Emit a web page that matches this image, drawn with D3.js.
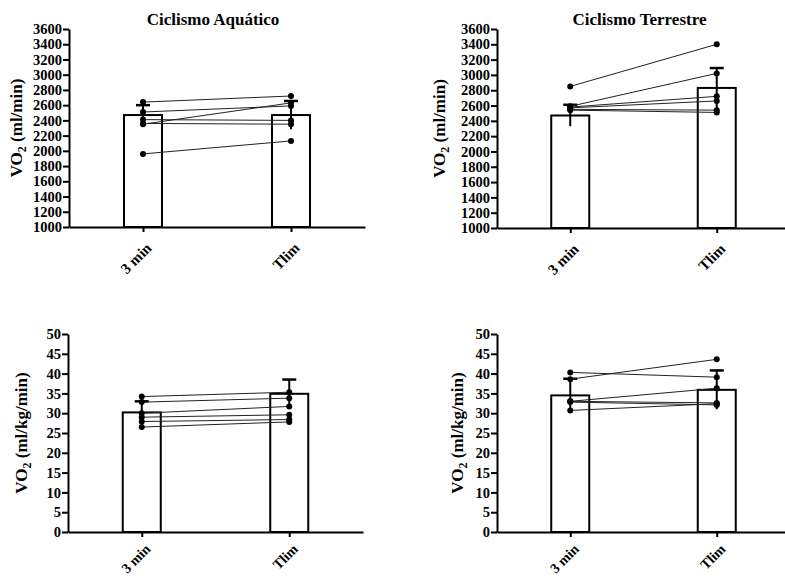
<!DOCTYPE html>
<html>
<head>
<meta charset="utf-8">
<script src="https://cdn.jsdelivr.net/npm/d3@7"></script>
<style>
  body { margin: 0; background: #fff; }
  svg { display: block; }
  text { font-family: "Times New Roman", "Liberation Serif", "DejaVu Serif", serif; font-weight: bold; fill: #000; }
</style>
</head>
<body>
<svg id="chart-svg" width="785" height="579"></svg>
<script>
// categories on every x axis
const categories = ["3 min", "Tlim"];

// tick labels
const ticksMl = [1000, 1200, 1400, 1600, 1800, 2000, 2200, 2400, 2600, 2800, 3000, 3200, 3400, 3600];
const ticksMlKg = [0, 5, 10, 15, 20, 25, 30, 35, 40, 45, 50];

// Ciclismo Aquático, ml/min
const aquaMlMean = [2470, 2470];
const aquaMlSd = [130, 185];
const aquaMlPre = [2640, 2510, 2350, 2410, 2360, 1960];
const aquaMlPost = [2720, 2590, 2630, 2400, 2350, 2130];

// Ciclismo Terrestre, ml/min
const terrMlMean = [2470, 2830];
const terrMlSd = [140, 260];
const terrMlPre = [2850, 2590, 2580, 2570, 2550, 2540];
const terrMlPost = [3400, 3020, 2720, 2660, 2540, 2510];

// Ciclismo Aquático, ml/kg/min
const aquaKgMean = [30.2, 34.9];
const aquaKgSd = [2.8, 3.6];
const aquaKgPre = [34.2, 32.8, 30.0, 29.0, 27.9, 26.5];
const aquaKgPost = [35.3, 33.8, 31.7, 29.6, 28.4, 27.8];

// Ciclismo Terrestre, ml/kg/min
const terrKgMean = [34.5, 35.9];
const terrKgSd = [4.2, 4.9];
const terrKgPre = [40.3, 38.6, 33.0, 33.0, 32.8, 30.7];
const terrKgPost = [39.1, 43.6, 36.3, 32.6, 32.1, 32.4];

const svg = d3.select("#chart-svg");
const serif = '"Times New Roman", "Liberation Serif", "DejaVu Serif", serif';

function drawPanel(p) {
    const g = svg.append("g");

    const x = d3.scalePoint()
        .domain(categories)
        .range([p.left, p.right])
        .padding(0.5);

    const y = d3.scaleLinear()
        .domain([p.ticks[0], p.ticks[p.ticks.length - 1]])
        .range([p.bottom, p.top]);

    const barW = 38;

    // bars
    g.selectAll(".bar")
        .data(categories)
        .enter()
        .append("rect")
        .attr("x", d => x(d) - barW / 2)
        .attr("y", (d, i) => y(p.mean[i]))
        .attr("width", barW)
        .attr("height", (d, i) => p.bottom - y(p.mean[i]))
        .attr("fill", "#fff")
        .attr("stroke", "#000")
        .attr("stroke-width", 2);

    // error bars (mean +/- SD)
    categories.forEach((c, i) => {
        g.append("line")
            .attr("x1", x(c)).attr("x2", x(c))
            .attr("y1", y(p.mean[i] - p.sd[i]))
            .attr("y2", y(p.mean[i] + p.sd[i]))
            .attr("stroke", "#000").attr("stroke-width", 2);
        g.append("line")
            .attr("x1", x(c) - 7).attr("x2", x(c) + 7)
            .attr("y1", y(p.mean[i] + p.sd[i]))
            .attr("y2", y(p.mean[i] + p.sd[i]))
            .attr("stroke", "#000").attr("stroke-width", 2.5);
    });

    // individual subjects: pre -> post
    p.pre.forEach((v, i) => {
        g.append("line")
            .attr("x1", x(categories[0])).attr("y1", y(v))
            .attr("x2", x(categories[1])).attr("y2", y(p.post[i]))
            .attr("stroke", "#222").attr("stroke-width", 1);
    });
    g.selectAll(".pre")
        .data(p.pre)
        .enter()
        .append("circle")
        .attr("cx", x(categories[0]))
        .attr("cy", d => y(d))
        .attr("r", 3)
        .attr("fill", "#000");
    g.selectAll(".post")
        .data(p.post)
        .enter()
        .append("circle")
        .attr("cx", x(categories[1]))
        .attr("cy", d => y(d))
        .attr("r", 3)
        .attr("fill", "#000");

    // Y axis
    const yAxis = g.append("g")
        .attr("transform", `translate(${p.left}, 0)`)
        .call(d3.axisLeft(y).tickValues(p.ticks).tickFormat(d3.format("d"))
            .tickSize(6).tickSizeOuter(0).tickPadding(1));
    yAxis.attr("font-family", serif);
    yAxis.select(".domain").attr("stroke-width", 2);
    yAxis.selectAll(".tick line").attr("stroke-width", 2);
    yAxis.selectAll("text")
        .attr("font-size", 14.5)
        .attr("font-weight", "bold");

    // X axis
    const xAxis = g.append("g")
        .attr("transform", `translate(0, ${p.bottom})`)
        .call(d3.axisBottom(x).tickSize(5).tickSizeOuter(0));
    xAxis.attr("font-family", serif);
    xAxis.select(".domain").attr("stroke-width", 2);
    xAxis.selectAll(".tick line").attr("stroke-width", 2);
    xAxis.selectAll("text")
        .attr("font-size", p.xFont)
        .attr("font-weight", "bold")
        .attr("y", 0)
        .attr("dy", 0)
        .attr("text-anchor", "end")
        .attr("transform", `translate(9, ${p.xDrop}) rotate(-45)`);

    // title
    if (p.title) {
        g.append("text")
            .attr("x", (p.left + p.right) / 2 - 4)
            .attr("y", 25)
            .attr("text-anchor", "middle")
            .attr("font-size", 17)
            .text(p.title);
    }

    // Y label with subscript
    const lab = g.append("text")
        .attr("transform", `translate(${p.labelX}, ${(p.top + p.bottom) / 2}) rotate(-90)`)
        .attr("text-anchor", "middle")
        .attr("font-size", 17);
    lab.append("tspan").text("VO");
    lab.append("tspan").attr("dy", 4).attr("font-size", 12).text("2");
    lab.append("tspan").attr("dy", -4).text(" " + p.unit);
}

drawPanel({ title: "Ciclismo Aquático", unit: "(ml/min)", ticks: ticksMl,
    left: 69, right: 365, top: 29, bottom: 227, labelX: 22, xFont: 15, xDrop: 22,
    mean: aquaMlMean, sd: aquaMlSd, pre: aquaMlPre, post: aquaMlPost });

drawPanel({ title: "Ciclismo Terrestre", unit: "(ml/min)", ticks: ticksMl,
    left: 497, right: 790, top: 29, bottom: 228, labelX: 445, xFont: 15, xDrop: 22,
    mean: terrMlMean, sd: terrMlSd, pre: terrMlPre, post: terrMlPost });

drawPanel({ title: null, unit: "(ml/kg/min)", ticks: ticksMlKg,
    left: 68, right: 363, top: 334, bottom: 532, labelX: 27, xFont: 14, xDrop: 18,
    mean: aquaKgMean, sd: aquaKgSd, pre: aquaKgPre, post: aquaKgPost });

drawPanel({ title: null, unit: "(ml/kg/min)", ticks: ticksMlKg,
    left: 497, right: 790, top: 334, bottom: 532, labelX: 463, xFont: 14, xDrop: 18,
    mean: terrKgMean, sd: terrKgSd, pre: terrKgPre, post: terrKgPost });
</script>
</body>
</html>
